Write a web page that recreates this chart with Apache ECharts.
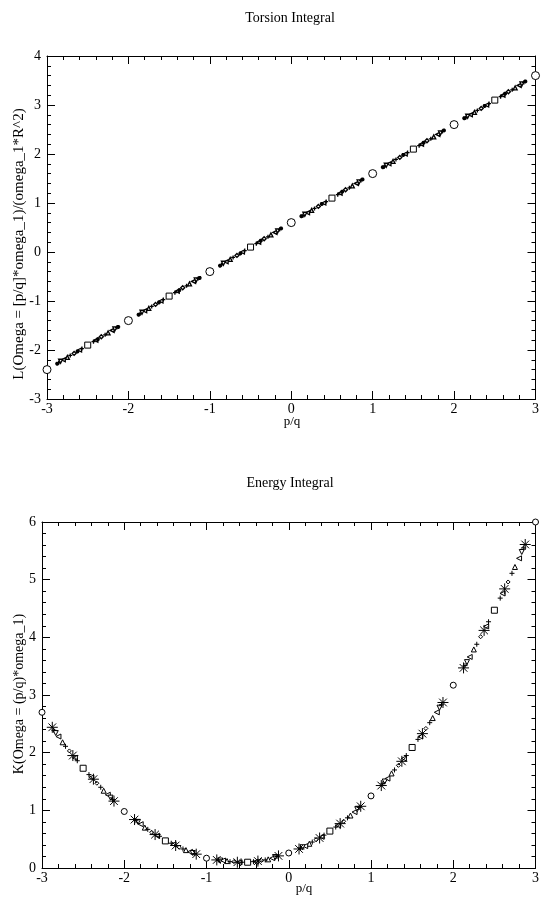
<!DOCTYPE html>
<html>
<head>
<meta charset="utf-8">
<script src="https://cdn.jsdelivr.net/npm/echarts/dist/echarts.min.js"></script>
<style>
    html, body { margin: 0; padding: 0; background: #fff; }
    #chart { width: 542px; height: 902px; }
</style>
</head>
<body>
<div id="chart"></div>
<script>
    // p/q positions, grouped by denominator q
    let xQ1 = [-3, -2, -1, 0, 1, 2, 3];
    let xQ2 = [-2.5, -1.5, -0.5, 0.5, 1.5, 2.5];
    let xQ3 = [-2.667, -2.333, -1.667, -1.333, -0.667, -0.333, 0.333, 0.667, 1.333, 1.667, 2.333, 2.667];
    let xQ4 = [-2.75, -2.25, -1.75, -1.25, -0.75, -0.25, 0.25, 0.75, 1.25, 1.75, 2.25, 2.75];
    let xQ5 = [-2.8, -2.6, -2.4, -2.2, -1.8, -1.6, -1.4, -1.2, -0.8, -0.6, -0.4, -0.2,
        0.2, 0.4, 0.6, 0.8, 1.2, 1.4, 1.6, 1.8, 2.2, 2.4, 2.6, 2.8];
    let xQ6 = [-2.833, -2.167, -1.833, -1.167, -0.833, -0.167, 0.167, 0.833, 1.167, 1.833, 2.167, 2.833];
    let xQ7 = [-2.857, -2.714, -2.571, -2.429, -2.286, -2.143, -1.857, -1.714, -1.571, -1.429, -1.286, -1.143,
        -0.857, -0.714, -0.571, -0.429, -0.286, -0.143, 0.143, 0.286, 0.429, 0.571, 0.714, 0.857,
        1.143, 1.286, 1.429, 1.571, 1.714, 1.857, 2.143, 2.286, 2.429, 2.571, 2.714, 2.857];
    let xQ8 = [-2.875, -2.625, -2.375, -2.125, -1.875, -1.625, -1.375, -1.125, -0.875, -0.625, -0.375, -0.125,
        0.125, 0.375, 0.625, 0.875, 1.125, 1.375, 1.625, 1.875, 2.125, 2.375, 2.625, 2.875];

    // Torsion integral L
    let torsionQ1 = [-2.4, -1.4, -0.4, 0.6, 1.6, 2.6, 3.6];
    let torsionQ2 = [-1.9, -0.9, 0.1, 1.1, 2.1, 3.1];
    let torsionQ3 = [-2.07, -1.73, -1.07, -0.73, -0.07, 0.27, 0.93, 1.27, 1.93, 2.27, 2.93, 3.27];
    let torsionQ4 = [-2.15, -1.65, -1.15, -0.65, -0.15, 0.35, 0.85, 1.35, 1.85, 2.35, 2.85, 3.35];
    let torsionQ5 = [-2.2, -2.0, -1.8, -1.6, -1.2, -1.0, -0.8, -0.6, -0.2, 0.0, 0.2, 0.4,
        0.8, 1.0, 1.2, 1.4, 1.8, 2.0, 2.2, 2.4, 2.8, 3.0, 3.2, 3.4];
    let torsionQ6 = [-2.23, -1.57, -1.23, -0.57, -0.23, 0.43, 0.77, 1.43, 1.77, 2.43, 2.77, 3.43];
    let torsionQ7 = [-2.26, -2.11, -1.97, -1.83, -1.69, -1.54, -1.26, -1.11, -0.97, -0.83, -0.69, -0.54,
        -0.26, -0.11, 0.03, 0.17, 0.31, 0.46, 0.74, 0.89, 1.03, 1.17, 1.31, 1.46,
        1.74, 1.89, 2.03, 2.17, 2.31, 2.46, 2.74, 2.89, 3.03, 3.17, 3.31, 3.46];
    let torsionQ8 = [-2.28, -2.03, -1.78, -1.53, -1.28, -1.03, -0.78, -0.53, -0.28, -0.03, 0.23, 0.48,
        0.73, 0.98, 1.23, 1.48, 1.73, 1.98, 2.23, 2.48, 2.73, 2.98, 3.23, 3.48];

    // Energy integral K
    let energyQ1 = [2.70, 0.98, 0.17, 0.26, 1.25, 3.17, 6.00];
    let energyQ2 = [1.73, 0.47, 0.10, 0.64, 2.09, 4.47];
    let energyQ3 = [2.03, 1.47, 0.62, 0.36, 0.11, 0.13, 0.49, 0.81, 1.78, 2.42, 4.01, 4.96];
    let energyQ4 = [2.18, 1.34, 0.70, 0.31, 0.12, 0.15, 0.42, 0.91, 1.64, 2.60, 3.79, 5.22];
    let energyQ5 = [2.28, 1.91, 1.57, 1.27, 0.76, 0.56, 0.41, 0.28, 0.13, 0.10, 0.11, 0.17,
        0.38, 0.54, 0.74, 0.97, 1.55, 1.90, 2.28, 2.70, 3.66, 4.19, 4.76, 5.37];
    let energyQ6 = [2.34, 1.22, 0.80, 0.26, 0.13, 0.19, 0.36, 1.02, 1.50, 2.78, 3.57, 5.48];
    let energyQ7 = [2.39, 2.11, 1.86, 1.62, 1.40, 1.19, 0.82, 0.67, 0.55, 0.43, 0.33, 0.25,
        0.14, 0.11, 0.10, 0.11, 0.14, 0.20, 0.35, 0.45, 0.57, 0.71, 0.87, 1.05,
        1.46, 1.70, 1.95, 2.23, 2.52, 2.83, 3.51, 3.88, 4.27, 4.68, 5.11, 5.55];
    let energyQ8 = [2.44, 1.95, 1.54, 1.16, 0.84, 0.58, 0.39, 0.24, 0.14, 0.10, 0.12, 0.21,
        0.33, 0.52, 0.77, 1.07, 1.43, 1.85, 2.33, 2.87, 3.47, 4.12, 4.84, 5.61];

    let xGroups = [xQ1, xQ2, xQ3, xQ4, xQ5, xQ6, xQ7, xQ8];
    let torsionGroups = [torsionQ1, torsionQ2, torsionQ3, torsionQ4, torsionQ5, torsionQ6, torsionQ7, torsionQ8];
    let energyGroups = [energyQ1, energyQ2, energyQ3, energyQ4, energyQ5, energyQ6, energyQ7, energyQ8];

    let serif = 'Liberation Serif';
    let plusPath = 'path://M0,5L10,5M5,0L5,10';
    let starPath = 'path://M0,5L10,5M5,0L5,10M1.5,1.5L8.5,8.5M1.5,8.5L8.5,1.5';

    // symbol per denominator: circle, square, diamond, triangles, plus, asterisk
    let symbols = [
        {symbol: 'circle', rotate: 0, line: false},
        {symbol: 'rect', rotate: 0, line: false},
        {symbol: 'diamond', rotate: 0, line: false},
        {symbol: 'triangle', rotate: 0, line: false},
        {symbol: 'triangle', rotate: 90, line: false},
        {symbol: 'triangle', rotate: 180, line: false},
        {symbol: plusPath, rotate: 0, line: true},
        {symbol: starPath, rotate: 0, line: true}
    ];
    let torsionSizes = [8, 6, 4, 4, 4, 4, 4, 4];
    let energySizes = [6, 6, 4, 5, 5, 5, 5, 11];

    function buildSeries(yGroups, sizes, gridIdx) {
        let list = [];
        for (let i = 0; i < xGroups.length; i++) {
            let pts = [];
            for (let j = 0; j < xGroups[i].length; j++) {
                pts.push([xGroups[i][j], yGroups[i][j]]);
            }
            let s = symbols[i];
            list.push({
                type: 'scatter',
                xAxisIndex: gridIdx * 2,
                yAxisIndex: gridIdx * 2,
                data: pts,
                symbol: s.symbol,
                symbolRotate: s.rotate,
                symbolSize: sizes[i],
                silent: true,
                itemStyle: {
                    color: s.line ? 'none' : '#fff',
                    borderColor: '#000',
                    borderWidth: (gridIdx === 0 && i > 1) ? 1.3 : 1,
                    opacity: 1
                }
            });
        }
        return list;
    }

    function axisPair(gridIdx, min, max, positions, labelMargin) {
        let base = {
            type: 'value', gridIndex: gridIdx, min: min, max: max, interval: 1,
            axisLine: {show: true, onZero: false, lineStyle: {color: '#000', width: 1}},
            axisTick: {show: true, inside: true, length: 8, lineStyle: {color: '#000'}},
            minorTick: {show: true, splitNumber: 5, length: 4, lineStyle: {color: '#000'}},
            splitLine: {show: false}
        };
        return [
            Object.assign({}, base, {
                position: positions[0],
                axisLabel: {fontFamily: serif, fontSize: 14, color: '#000', margin: labelMargin}
            }),
            Object.assign({}, base, {position: positions[1], axisLabel: {show: false}})
        ];
    }

    function label(text, x, y, size, rotation) {
        return {
            type: 'text', x: x, y: y, rotation: rotation, silent: true,
            style: {
                text: text, fontFamily: serif, fontSize: size, fill: '#000',
                textAlign: 'center', textVerticalAlign: 'middle'
            }
        };
    }

    let chart = echarts.init(document.getElementById('chart'), null, {renderer: 'canvas'});

    let option = {
        animation: false,
        backgroundColor: '#fff',
        graphic: [
            label('Torsion Integral', 290, 18, 14, 0),
            label('Energy Integral', 290, 483, 14, 0),
            label('L(Omega = [p/q]*omega_1)/(omega_1*R^2)', 19, 244, 15, Math.PI / 2),
            label('K(Omega = (p/q)*omega_1)', 19, 694, 14, Math.PI / 2),
            label('p/q', 292, 422, 13, 0),
            label('p/q', 304, 889, 13, 0)
        ],
        grid: [
            {left: 47, top: 56, width: 490, height: 343},
            {left: 42, top: 522, width: 494, height: 346}
        ],
        xAxis: axisPair(0, -3, 3, ['bottom', 'top'], 3).concat(axisPair(1, -3, 3, ['bottom', 'top'], 3)),
        yAxis: axisPair(0, -3, 4, ['left', 'right'], 6).concat(axisPair(1, 0, 6, ['left', 'right'], 6)),
        series: buildSeries(torsionGroups, torsionSizes, 0)
            .concat(buildSeries(energyGroups, energySizes, 1))
    };

    // mirrored axes share the grid of the main axes
    option.xAxis[2].gridIndex = 1;
    option.xAxis[3].gridIndex = 1;
    option.yAxis[2].gridIndex = 1;
    option.yAxis[3].gridIndex = 1;

    chart.setOption(option);
</script>
</body>
</html>
